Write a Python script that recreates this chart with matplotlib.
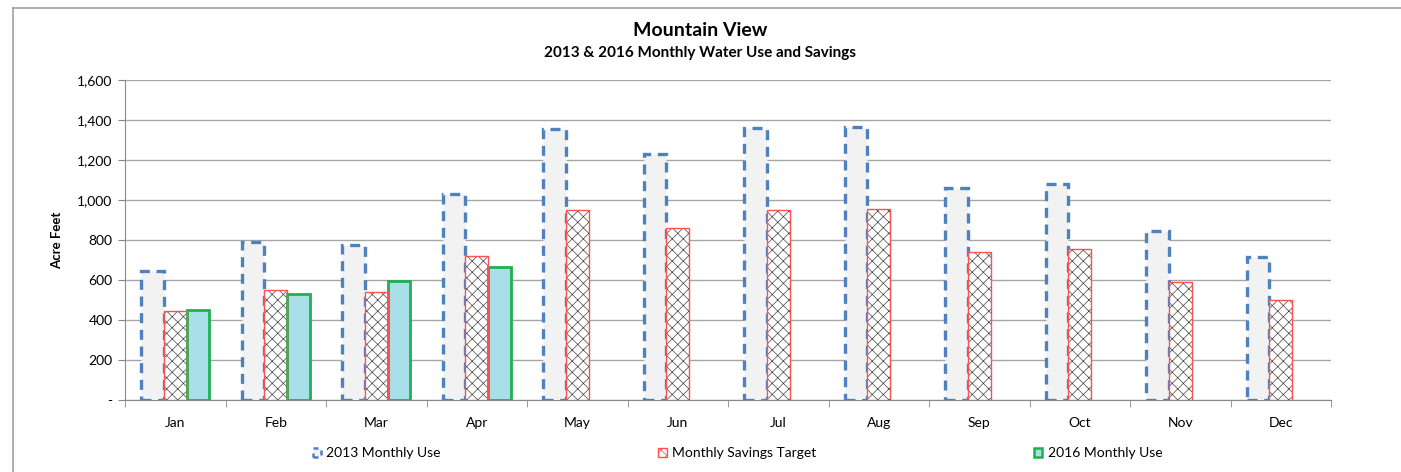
import numpy as np
import matplotlib
matplotlib.use('Agg')
import matplotlib.pyplot as plt
from matplotlib.lines import Line2D
from matplotlib.patches import Patch
from matplotlib.ticker import FuncFormatter

plt.rcParams['font.family'] = ['Lato', 'DejaVu Sans']
plt.rcParams['hatch.linewidth'] = 0.5

months = ['Jan', 'Feb', 'Mar', 'Apr', 'May', 'Jun', 'Jul', 'Aug', 'Sep', 'Oct', 'Nov', 'Dec']
use_2013 = [645, 790, 775, 1030, 1355, 1230, 1360, 1365, 1060, 1080, 845, 715]
target = [445, 550, 540, 720, 950, 860, 950, 955, 740, 755, 590, 500]
use_2016 = [450, 530, 595, 665]

fig = plt.figure(figsize=(14.01, 4.72), dpi=100)
ax = fig.add_axes([125/1401, 1-400/472, (1331-125)/1401, 320/472])

x = np.arange(len(months))
w = 0.225

# 2013 monthly use
ax.bar(x - w, use_2013, w, color='#f2f2f2', edgecolor='#4f81bd', linewidth=2.4,
       linestyle=(0, (3, 2)), zorder=3)
# savings target: hatch drawn in black, outline in red on top
ax.bar(x, target, w, color='white', edgecolor='#444444', linewidth=0, hatch='xxx', zorder=3)
ax.bar(x, target, w, color='none', edgecolor='#ff5050', linewidth=1.0, zorder=4)
# 2016 monthly use
ax.bar(x[:len(use_2016)] + w, use_2016, w, color='#a9dfe9', edgecolor='#1fb04f',
       linewidth=2.0, zorder=3)

ax.set_xlim(-0.5, len(months) - 0.5)
ax.set_ylim(0, 1600)
ax.set_yticks(range(0, 1601, 200))
ax.yaxis.set_major_formatter(FuncFormatter(lambda v, p: '-' if v == 0 else f'{int(v):,}'))
ax.set_xticks(x)
ax.set_xticklabels(months)
ax.set_xticks(np.arange(-0.5, len(months), 1), minor=True)
ax.tick_params(axis='x', which='major', length=0, pad=12, labelsize=10)
ax.tick_params(axis='x', which='minor', length=5, color='#888888', direction='out')
ax.tick_params(axis='y', length=5, color='#888888', labelsize=10, pad=4)
ax.grid(axis='y', color='#a6a6a6', linewidth=1.0, zorder=0)
for s in ['top', 'right']:
    ax.spines[s].set_visible(False)
for s in ['left', 'bottom']:
    ax.spines[s].set_color('#888888')
ax.set_ylabel('Acre Feet', fontsize=9.5, fontweight='bold', labelpad=10)

fig.text(0.5, 1-30/472, 'Mountain View', ha='center', va='center', fontsize=14, fontweight='bold')
fig.text(0.5, 1-53/472, '2013 & 2016 Monthly Water Use and Savings', ha='center', va='center',
         fontsize=11, fontweight='bold')

handles = [
    Patch(facecolor='#f2f2f2', edgecolor='#4f81bd', linestyle=(0, (2, 2)), linewidth=1.8),
    Patch(facecolor='white', edgecolor='#ff5050', hatch='xxx', linewidth=1),
    Patch(facecolor='#a9dfe9', edgecolor='#1fb04f', linewidth=1.8),
]
labels = ['2013 Monthly Use', 'Monthly Savings Target', '2016 Monthly Use']
fig.legend(handles, labels, loc='center', ncol=3, frameon=False, fontsize=10,
           bbox_to_anchor=(300/1401, 1-453/472 - 0.02, (1175-300)/1401, 0.04), mode='expand',
           handlelength=0.6, handleheight=0.6, handletextpad=0.4)

# chart border
fig.add_artist(Line2D([13/1401, 13/1401], [0, 1-8/472], color='#a0a0a0', linewidth=1.2))
fig.add_artist(Line2D([13/1401, 1], [1-8/472, 1-8/472], color='#a0a0a0', linewidth=1.2))

fig.savefig('out.png', dpi=100)
